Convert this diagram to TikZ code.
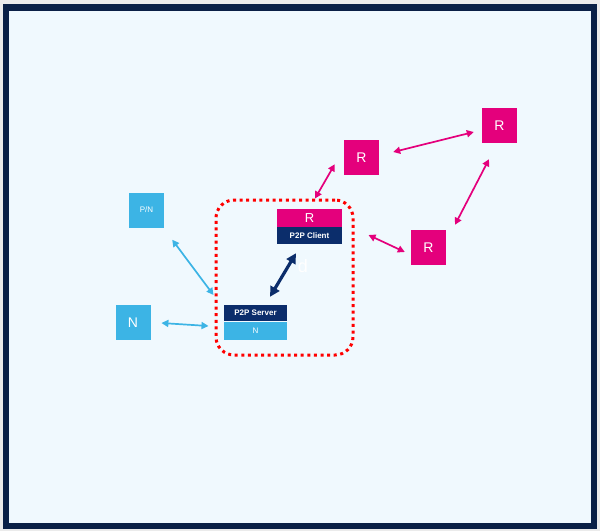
\documentclass[tikz,border=0pt]{standalone}
\usepackage{fontspec}
\setmainfont{Liberation Sans}
\usetikzlibrary{arrows.meta}
\definecolor{magenta}{HTML}{E4007C}
\definecolor{navy}{HTML}{0B2D6B}
\definecolor{sky}{HTML}{3CB4E5}
\definecolor{frame}{HTML}{0A2046}
\definecolor{paper}{HTML}{F0F9FE}
\begin{document}
\begin{tikzpicture}[x=1pt, y=-1pt, line cap=round, line join=round,
    rbox/.style={fill=magenta, text=white, inner sep=0pt, minimum size=35pt, font=\fontsize{14}{14}\selectfont},
    nbox/.style={fill=sky, text=white, inner sep=0pt, minimum size=35pt, font=\fontsize{14}{14}\selectfont},
    bar/.style={text=white, inner sep=0pt, font=\fontsize{8}{8}\selectfont\bfseries},
    rarrow/.style={magenta, line width=1.7pt, {Triangle[length=7pt,width=7pt]}-{Triangle[length=7pt,width=7pt]}},
    larrow/.style={sky, line width=1.7pt, {Triangle[length=7pt,width=7pt]}-{Triangle[length=7pt,width=7pt]}}]
  \fill[black!8] (0,0) rectangle (600,531);
  \useasboundingbox (0,0) rectangle (600,531);
  \fill[frame] (3,4) rectangle (597,529);
  \fill[paper] (9,11) rectangle (591,523);
  % local pair inside the dotted area
  \node[draw=red, line cap=butt, dash pattern=on 3pt off 3.6pt, line width=3pt, rounded corners=18pt,
        minimum width=137pt, minimum height=155pt] (hub) at (284.5,277.5) {};
  \node[bar, fill=magenta, minimum width=65pt, minimum height=18pt, font=\fontsize{13}{13}\selectfont] (rc) at (309.5,218) {R};
  \node[bar, fill=navy, minimum width=65pt, minimum height=17pt] (cl) at (309.5,235.5) {P2P Client};
  \node[bar, fill=navy, minimum width=63pt, minimum height=16pt] (sv) at (255.5,313) {P2P Server};
  \node[bar, fill=sky, minimum width=63pt, minimum height=18pt, font=\fontsize{8}{8}\selectfont] (sn) at (255.5,331) {N};
  \node[text=white, font=\fontsize{18}{18}\selectfont] (dmark) at (303,266) {d};
  % outside nodes
  \node[nbox, font=\fontsize{8}{8}\selectfont] (pn) at (146.5,210) {P/N};
  \node[nbox] (nl) at (133,322.5) {N};
  \node[rbox] (r1) at (361.5,157.5) {R};
  \node[rbox] (r2) at (499.5,125.5) {R};
  \node[rbox] (r3) at (428.5,247.5) {R};
  \draw[navy, line width=3.2pt, {Triangle[length=10pt,width=10pt]}-{Triangle[length=10pt,width=10pt]}]
    ([shift={(14.5,-8)}]sv.north) -- ([shift={(-13.5,9)}]cl.south);
  \draw[larrow] ([shift={(8,12)}]pn.south east) -- ([shift={(-1,17.5)}]hub.west);
  \draw[larrow] ([shift={(10.7,0.5)}]nl.east) -- ([shift={(-6,48.5)}]hub.west);
  \draw[rarrow] ([shift={(30.5,0)}]hub.north) -- ([shift={(-9,-11)}]r1.south west);
  \draw[rarrow] ([shift={(14,-5.5)}]r1.east) -- ([shift={(-8,6.5)}]r2.west);
  \draw[rarrow] ([shift={(-10.5,16)}]r2.south) -- ([shift={(26.5,-5)}]r3.north);
  \draw[rarrow] ([shift={(-6,4.5)}]r3.west) -- ([shift={(14,-42.5)}]hub.east);
\end{tikzpicture}
\end{document}
